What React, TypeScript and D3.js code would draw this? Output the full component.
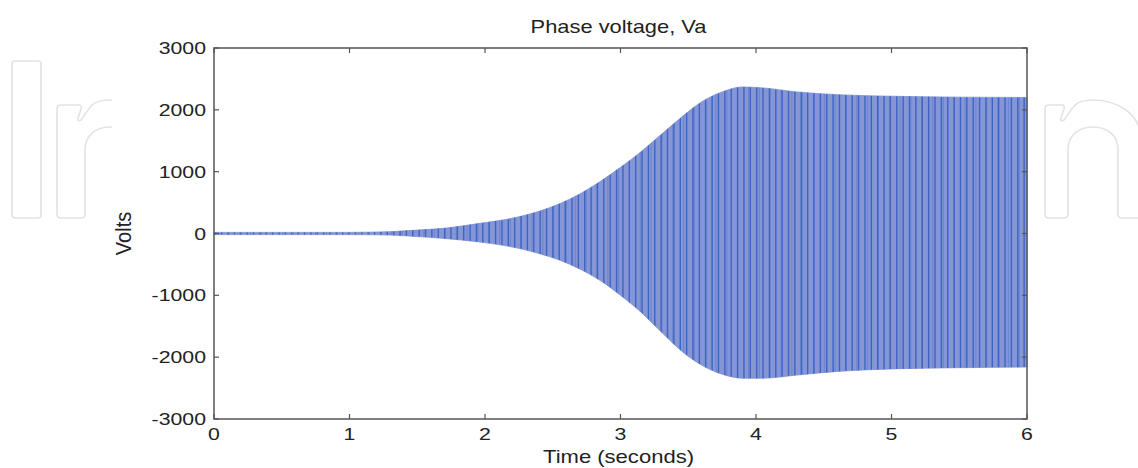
import React from "react";
import * as d3 from "d3";

// ---- data ----
const X_TICKS = [0, 1, 2, 3, 4, 5, 6];
const Y_TICKS = [-3000, -2000, -1000, 0, 1000, 2000, 3000];
const ENV_T = [0, 0.5, 1.0, 1.3, 1.5, 1.7, 1.95, 2.25, 2.4, 2.55, 2.7, 2.85, 3.0, 3.15, 3.3, 3.45, 3.6, 3.75, 3.9, 4.05, 4.3, 4.6, 5.0, 5.5, 6.0];
const ENV_UPPER = [18, 18, 18, 30, 55, 85, 160, 270, 360, 480, 640, 840, 1070, 1320, 1600, 1880, 2130, 2290, 2370, 2355, 2290, 2245, 2220, 2205, 2200];
const ENV_LOWER = [-18, -18, -18, -25, -50, -80, -135, -240, -325, -430, -575, -760, -1000, -1270, -1590, -1900, -2130, -2275, -2340, -2340, -2290, -2230, -2190, -2170, -2160];
const STRIPE_DT = 0.047; // apparent oscillation period (s) of the drawn waveform
const TITLE = "Phase voltage, Va";
const X_LABEL = "Time (seconds)";
const Y_LABEL = "Volts";

const W = 1138;
const H = 468;
const FONT = "'Liberation Sans', Arial, Helvetica, sans-serif";

function nPath(L: number, w: number, c: number) {
  const cx = L + w + c / 2;
  const R = L + 2 * w + c;
  const ir = L + w + c;
  return `M${L},214 V109 Q${L},105 ${L + 4},105 H${L + w - 6} Q${L + w - 3},105 ${L + w - 4},109 L${L + w - 7},118 Q${L + w - 8},122 ${L + w - 4},120 C${L + w + 6},106 ${cx - 18},100 ${cx},100 C${cx + 22},100 ${R},112 ${R},140 V214 Q${R},218 ${R - 4},218 H${ir + 4} Q${ir},218 ${ir},214 V150 C${ir},135 ${cx + 14},127 ${cx},127 C${cx - 14},127 ${L + w},135 ${L + w},150 V214 Q${L + w},218 ${L + w - 4},218 H${L + 4} Q${L},218 ${L},214 Z`;
}

export default function App() {
  const x = d3.scaleLinear().domain([0, 6]).range([214, 1027]);
  const y = d3.scaleLinear().domain([-3000, 3000]).range([419, 48]);

  const env = ENV_T.map((t, i) => ({ t, hi: ENV_UPPER[i], lo: ENV_LOWER[i] }));
  const area = d3
    .area<{ t: number; hi: number; lo: number }>()
    .x((d) => x(d.t))
    .y0((d) => y(d.lo))
    .y1((d) => y(d.hi))
    .curve(d3.curveMonotoneX);
  const areaD = area(env) || "";

  const stripes = d3.range(0.01, 6, STRIPE_DT);
  const stripes2 = d3.range(0.03, 6, STRIPE_DT * 1.7);

  const [x0, x1] = x.range();
  const [yb, yt] = y.range();
  const tick = 5;

  return (
    <svg width={W} height={H} style={{ position: "absolute", left: 0, top: 0, background: "#fff" }}>
      <rect x={0} y={0} width={W} height={H} fill="#fff" />
      {/* watermark */}
      <g fill="none" stroke="#e3e3e3" strokeWidth={1.6}>
        <rect x={12} y={61} width={29} height={157} rx={3} />
        <path d={nPath(57, 28, 50)} />
        <path d={nPath(1045, 23, 50)} />
      </g>
      <rect x={112} y={0} width={1043 - 112} height={H} fill="#fff" />

      <defs>
        <clipPath id="envClip">
          <path d={areaD} />
        </clipPath>
      </defs>

      {/* signal */}
      <path d={areaD} fill="#8696d4" stroke="#7d90d2" strokeWidth={0.8} />
      <g clipPath="url(#envClip)">
        {stripes2.map((t, i) => (
          <line key={"s2" + i} x1={x(t)} x2={x(t)} y1={yt} y2={yb} stroke="#6a84d0" strokeWidth={1} />
        ))}
        {stripes.map((t, i) => (
          <line key={"s" + i} x1={x(t)} x2={x(t)} y1={yt} y2={yb} stroke="#3b64c6" strokeWidth={1.4} />
        ))}
      </g>

      {/* axes box */}
      <rect x={x0} y={yt} width={x1 - x0} height={yb - yt} fill="none" stroke="#555" strokeWidth={1.5} />
      <g stroke="#555" strokeWidth={1.2}>
        {X_TICKS.map((t) => (
          <g key={"xt" + t}>
            <line x1={x(t)} x2={x(t)} y1={yb} y2={yb - tick} />
            <line x1={x(t)} x2={x(t)} y1={yt} y2={yt + tick} />
          </g>
        ))}
        {Y_TICKS.map((v) => (
          <g key={"yt" + v}>
            <line x1={x0} x2={x0 + tick} y1={y(v)} y2={y(v)} />
            <line x1={x1} x2={x1 - tick} y1={y(v)} y2={y(v)} />
          </g>
        ))}
      </g>

      <g fontFamily={FONT} fill="#222">
        {X_TICKS.map((t) => (
          <g key={"xl" + t} transform={`translate(${x(t)},${yb + 21}) scale(1.33,1)`}>
            <text textAnchor="middle" fontSize={16}>{t}</text>
          </g>
        ))}
        {Y_TICKS.map((v) => (
          <g key={"yl" + v} transform={`translate(206,${y(v) + 6}) scale(1.33,1)`}>
            <text textAnchor="end" fontSize={16}>{v}</text>
          </g>
        ))}
        <g transform={`translate(${(x0 + x1) / 2 - 2},33) scale(1.25,1)`}>
          <text textAnchor="middle" fontSize={17.5}>{TITLE}</text>
        </g>
        <g transform={`translate(${(x0 + x1) / 2 - 2},463) scale(1.26,1)`}>
          <text textAnchor="middle" fontSize={17.5}>{X_LABEL}</text>
        </g>
        <g transform={`translate(131,${(yb + yt) / 2}) rotate(-90) scale(1.15,1.25)`}>
          <text textAnchor="middle" fontSize={17.5}>{Y_LABEL}</text>
        </g>
      </g>
    </svg>
  );
}
